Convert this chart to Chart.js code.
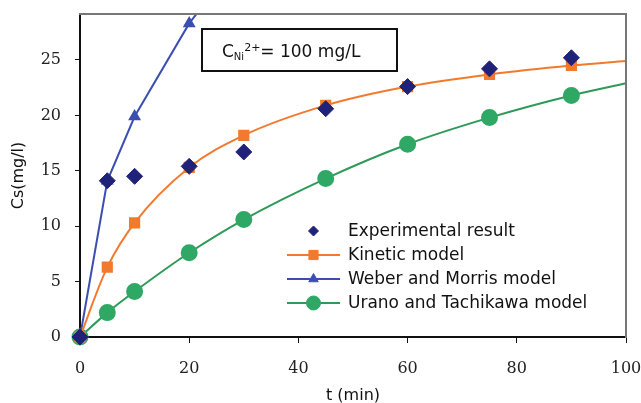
<!DOCTYPE html>
<html>
<head>
<meta charset="utf-8">
<script src="https://cdn.jsdelivr.net/npm/chart.js@4"></script>
<style>
  html, body { margin: 0; padding: 0; background: #fff; }
  #wrap { width: 641px; height: 403px; }
</style>
</head>
<body>
<div id="wrap"><canvas id="cs"></canvas></div>
<script>
// Ni2+ uptake vs time: experiment and three kinetic models.
const tExp     = [0, 5, 10, 20, 30, 45, 60, 75, 90];
const cExp     = [0, 14.1, 14.5, 15.4, 16.7, 20.6, 22.6, 24.2, 25.2];

const tModel   = [0, 5, 10, 20, 30, 45, 60, 75, 90, 100];
const cKinetic = [0, 6.3, 10.3, 15.3, 18.2, 20.9, 22.6, 23.7, 24.5, 24.9];
const cUrano   = [0, 2.2, 4.1, 7.6, 10.6, 14.3, 17.4, 19.8, 21.8, 22.9];

const tWeber   = [0, 5, 10, 20, 30];
const cWeber   = [0, 14.1, 19.9, 28.3, 34.7];

const xTicks = [0, 20, 40, 60, 80, 100];
const yTicks = [0, 5, 10, 15, 20, 25];

const pts = (xs, ys) => xs.map((x, i) => ({ x: x, y: ys[i] }));
// model curves carry a last point at t=100 that has no marker
const markerRadius = (xs, r) => xs.map(x => x === 100 ? 0 : r);

const SANS  = '"DejaVu Sans", Arial, sans-serif';
const SERIF = '"DejaVu Serif", "Times New Roman", serif';

const COL = {
  exp:    '#1f2278',
  kin:    '#f27a2e',
  weber:  '#3c4fb1',
  urano:  '#2e9a58',
  uranoF: '#30a865'
};

// empty top/right axes, only their grey border lines are shown
const frameAxis = (position, horizontal) => ({
  type: 'linear', position: position, min: 0, max: 1,
  ticks: { display: false },
  grid: { drawOnChartArea: false, drawTicks: false },
  border: { display: true, color: '#777', width: 2 },
  afterFit: s => {
    if (horizontal) { s.height = 0; s.paddingLeft = 0; s.paddingRight = 0; }
    else { s.width = 0; s.paddingTop = 0; s.paddingBottom = 0; }
  }
});

// box with C_Ni^2+ = 100 mg/L and the legend inside the plot
const extras = {
  id: 'extras',
  afterDraw(chart) {
    const ctx = chart.ctx;
    const a = chart.chartArea;
    ctx.save();

    // grey frame top and right (drawn again on top of everything)
    ctx.strokeStyle = '#777';
    ctx.lineWidth = 2;
    ctx.beginPath();
    ctx.moveTo(a.left, a.top);
    ctx.lineTo(a.right, a.top);
    ctx.lineTo(a.right, a.bottom);
    ctx.stroke();

    // concentration box
    const bx = a.left + 122, by = a.top + 15, bw = 195, bh = 42;
    ctx.fillStyle = '#fff';
    ctx.fillRect(bx, by, bw, bh);
    ctx.strokeStyle = '#111';
    ctx.lineWidth = 2;
    ctx.strokeRect(bx, by, bw, bh);
    ctx.fillStyle = '#111';
    ctx.textBaseline = 'alphabetic';
    let tx = bx + 20;
    const base = by + 28;
    ctx.font = '17px ' + SANS;
    ctx.fillText('C', tx, base); tx += ctx.measureText('C').width;
    ctx.font = '10px ' + SANS;
    ctx.fillText('Ni', tx, base + 3); tx += ctx.measureText('Ni').width;
    ctx.font = '11px ' + SANS;
    ctx.fillText('2+', tx, base - 6); tx += ctx.measureText('2+').width;
    ctx.font = '17px ' + SANS;
    ctx.fillText('= 100 mg/L', tx, base);

    // legend
    const lx = a.left + 207, ly = a.top + 217, step = 24;
    ctx.font = '17px ' + SANS;
    ctx.textBaseline = 'middle';
    chart.data.datasets.forEach((ds, i) => {
      const y = ly + i * step;
      if (ds.showLine !== false) {
        ctx.strokeStyle = ds.borderColor;
        ctx.lineWidth = ds.borderWidth;
        ctx.beginPath();
        ctx.moveTo(lx, y);
        ctx.lineTo(lx + 53, y);
        ctx.stroke();
      }
      ctx.fillStyle = ds.pointBackgroundColor;
      ctx.strokeStyle = ds.pointBorderColor;
      ctx.lineWidth = 1;
      Chart.helpers.drawPoint(ctx, {
        pointStyle: ds.pointStyle,
        radius: ds.legendRadius,
        borderWidth: 1,
        rotation: 0
      }, lx + 26.5, y);
      ctx.fillStyle = '#111';
      ctx.fillText(ds.label, lx + 61, y + 1);
    });
    ctx.restore();
  }
};

new Chart(document.getElementById('cs'), {
  type: 'line',
  data: {
    datasets: [
      {
        label: 'Experimental result',
        data: pts(tExp, cExp),
        showLine: false,
        pointStyle: 'rectRot',
        pointRadius: 8,
        legendRadius: 5,
        pointBackgroundColor: COL.exp,
        pointBorderColor: COL.exp,
        borderColor: COL.exp,
        clip: false
      },
      {
        label: 'Kinetic model',
        data: pts(tModel, cKinetic),
        borderColor: COL.kin,
        borderWidth: 2,
        cubicInterpolationMode: 'monotone',
        pointStyle: 'rect',
        pointRadius: markerRadius(tModel, 6.5),
        legendRadius: 6.5,
        pointBackgroundColor: COL.kin,
        pointBorderColor: COL.kin,
        clip: false
      },
      {
        label: 'Weber and Morris model',
        data: pts(tWeber, cWeber),
        borderColor: COL.weber,
        borderWidth: 2,
        tension: 0,
        pointStyle: 'triangle',
        pointRadius: 5.5,
        legendRadius: 5.5,
        pointBackgroundColor: COL.weber,
        pointBorderColor: COL.weber,
        clip: { left: 10, bottom: 10, top: 0, right: 0 }
      },
      {
        label: 'Urano and Tachikawa model',
        data: pts(tModel, cUrano),
        borderColor: COL.urano,
        borderWidth: 2,
        cubicInterpolationMode: 'monotone',
        pointStyle: 'circle',
        pointRadius: markerRadius(tModel, 7.5),
        legendRadius: 7,
        pointBackgroundColor: COL.uranoF,
        pointBorderColor: COL.uranoF,
        clip: false
      }
    ]
  },
  options: {
    responsive: true,
    maintainAspectRatio: false,
    animation: false,
    layout: { padding: { left: 0, top: 14, right: 15, bottom: 0 } },
    plugins: { legend: { display: false }, tooltip: { enabled: false } },
    scales: {
      x: {
        type: 'linear', min: 0, max: 100,
        afterBuildTicks: s => { s.ticks = xTicks.map(v => ({ value: v })); },
        afterFit: s => { s.height = 66; s.paddingLeft = 0; s.paddingRight = 0; },
        ticks: { color: '#222', padding: 16, maxRotation: 0,
                 font: { family: SERIF, size: 16 } },
        grid: { drawOnChartArea: false, drawTicks: true, tickLength: 6, color: '#111' },
        border: { color: '#111', width: 2 },
        title: { display: true, text: 't (min)', color: '#111',
                 padding: { top: 0, bottom: -2 },
                 font: { family: SANS, size: 16 } }
      },
      y: {
        min: 0, max: 29.15,
        afterBuildTicks: s => { s.ticks = yTicks.map(v => ({ value: v })); },
        afterFit: s => { s.width = 80; s.paddingTop = 0; s.paddingBottom = 0; },
        ticks: { color: '#222', padding: 14,
                 font: { family: SERIF, size: 16 } },
        grid: { drawOnChartArea: false, drawTicks: true, tickLength: 5, color: '#111' },
        border: { color: '#111', width: 2 },
        title: { display: true, text: 'Cs(mg/l)', color: '#111',
                 padding: { top: 9, bottom: 0 },
                 font: { family: SANS, size: 16 } }
      },
      xTop:   frameAxis('top', true),
      yRight: frameAxis('right', false)
    }
  },
  plugins: [extras]
});
</script>
</body>
</html>
